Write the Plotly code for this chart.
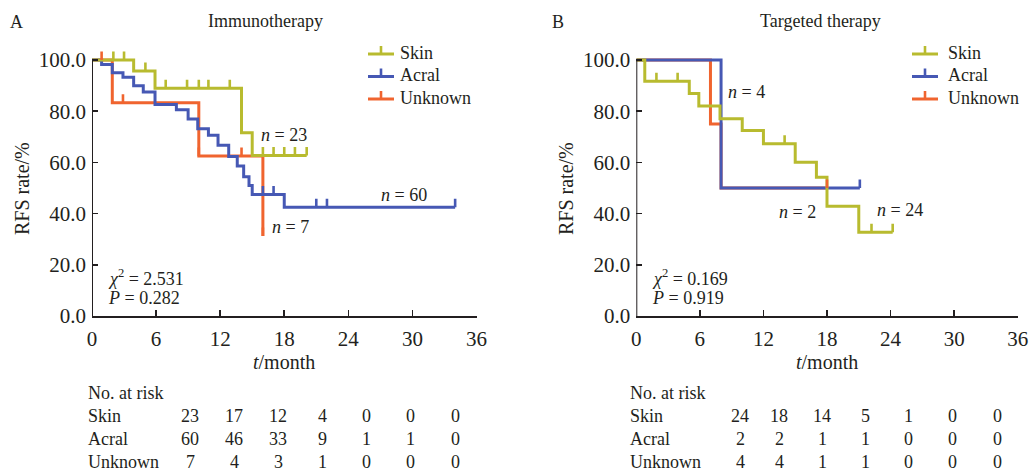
import plotly.graph_objects as go

# ---------------- data ----------------
groups = ["Skin", "Acral", "Unknown"]
colors = {"Skin": "#b8bb2f", "Acral": "#4658b4", "Unknown": "#f0642f"}

# Panel A: Immunotherapy (event times in months, survival % after each event)
a_skin_t = [3.9, 5.9, 14.0, 15.0]
a_skin_s = [95.7, 89.0, 71.6, 62.7]
a_skin_end = 20.1
a_skin_cens = [2.0, 3.0, 5.0, 6.9, 8.9, 10.0, 10.9, 12.9, 16.0, 17.0, 18.0, 19.0, 20.1]

a_acral_t = [0.9, 1.9, 2.9, 3.9, 4.8, 5.9, 7.9, 9.0, 9.9, 10.9, 11.8, 12.8, 13.6, 14.2, 14.7, 15.0, 18.0]
a_acral_s = [98.3, 95.0, 93.3, 90.0, 87.5, 82.6, 80.6, 77.0, 73.2, 70.6, 66.7, 62.3, 58.6, 54.4, 51.0, 47.5, 42.5]
a_acral_end = 34.0
a_acral_cens = [16.0, 17.0, 21.0, 22.0, 34.0]

a_unk_t = [1.9, 10.0, 16.0]
a_unk_s = [83.3, 62.5, 31.25]
a_unk_end = 16.0
a_unk_cens = [0.9, 2.9, 10.0, 14.0, 16.0]

# Panel B: Targeted therapy
b_skin_t = [0.8, 5.0, 5.9, 7.9, 10.0, 12.0, 15.0, 17.0, 18.0, 21.0]
b_skin_s = [91.7, 86.9, 82.0, 77.1, 72.5, 67.3, 60.1, 54.2, 42.9, 32.7]
b_skin_end = 24.2
b_skin_cens = [1.9, 3.9, 14.0, 22.2, 24.2]

b_acral_t = [8.0]
b_acral_s = [50.0]
b_acral_end = 21.1
b_acral_cens = [21.1]

b_unk_t = [7.0, 8.0]
b_unk_s = [75.0, 50.0]
b_unk_end = 18.0
b_unk_cens = [18.0]

x_ticks = [0, 6, 12, 18, 24, 30, 36]
y_ticks = [0, 20, 40, 60, 80, 100]
y_ticktext = ["0.0", "20.0", "40.0", "60.0", "80.0", "100.0"]

risk_times = [0, 6, 12, 18, 24, 30, 36]
a_risk = {"Skin": [23, 17, 12, 4, 0, 0, 0],
          "Acral": [60, 46, 33, 9, 1, 1, 0],
          "Unknown": [7, 4, 3, 1, 0, 0, 0]}
b_risk = {"Skin": [24, 18, 14, 5, 1, 0, 0],
          "Acral": [2, 2, 1, 1, 0, 0, 0],
          "Unknown": [4, 4, 1, 1, 0, 0, 0]}

a_stats = ("2.531", "0.282")
b_stats = ("0.169", "0.919")
a_nlabels = [("23", 18.0, 70.6), ("60", 29.2, 47.1), ("7", 18.6, 34.6)]
b_nlabels = [("4", 10.4, 87.6), ("2", 15.2, 40.8), ("24", 24.9, 41.4)]

# ---------------- layout constants ----------------
W, H = 1029, 471
FONT = "Liberation Serif"
TXT = "#231f20"
TICK_H = 3.3  # censor tick height in % units

panelA = {"Skin": (a_skin_t, a_skin_s, a_skin_end, a_skin_cens),
          "Acral": (a_acral_t, a_acral_s, a_acral_end, a_acral_cens),
          "Unknown": (a_unk_t, a_unk_s, a_unk_end, a_unk_cens)}
panelB = {"Skin": (b_skin_t, b_skin_s, b_skin_end, b_skin_cens),
          "Acral": (b_acral_t, b_acral_s, b_acral_end, b_acral_cens),
          "Unknown": (b_unk_t, b_unk_s, b_unk_end, b_unk_cens)}


def level_at(t, times, surv):
    lv = 100.0
    for ti, si in zip(times, surv):
        if ti <= t + 1e-9:
            lv = si
    return lv


fig = go.Figure()
draw_order = ["Unknown", "Acral", "Skin"]
tick_order = ["Acral", "Skin", "Unknown"]

for pi, panel in enumerate([panelA, panelB]):
    xa = "x" if pi == 0 else "x2"
    ya = "y" if pi == 0 else "y2"
    for g in draw_order:
        times, surv, end, cens = panel[g]
        xs = [0] + list(times)
        ys = [100] + list(surv)
        if end > xs[-1]:
            xs.append(end)
            ys.append(ys[-1])
        fig.add_trace(go.Scatter(x=xs, y=ys, mode="lines", name=g,
                                 line=dict(color=colors[g], width=3, shape="hv"),
                                 xaxis=xa, yaxis=ya, showlegend=False, hoverinfo="skip"))
    for g in tick_order:
        times, surv, end, cens = panel[g]
        tx, ty = [], []
        for c in cens:
            lv = level_at(c, times, surv)
            tx += [c, c, None]
            ty += [lv, lv + TICK_H, None]
        fig.add_trace(go.Scatter(x=tx, y=ty, mode="lines", line=dict(color=colors[g], width=2.6),
                                 xaxis=xa, yaxis=ya, showlegend=False, hoverinfo="skip"))

ydom = [155 / H, 421.2 / H]
axis_common = dict(showgrid=False, zeroline=False, ticks="inside", ticklen=6, tickwidth=1.6,
                   automargin=False,
                   tickcolor=TXT, tickfont=dict(family=FONT, size=21, color=TXT))
xaxis_common = dict(axis_common, range=[0, 36], tickvals=x_ticks, showline=True,
                    linecolor=TXT, linewidth=2, ticklabelstandoff=3)
yaxis_common = dict(axis_common, range=[0, 104], tickvals=y_ticks, ticktext=y_ticktext,
                    showline=False, ticklabelstandoff=5)

fig.update_layout(
    width=W, height=H,
    margin=dict(l=0, r=0, t=0, b=0, autoexpand=False),
    paper_bgcolor="white", plot_bgcolor="white",
    font=dict(family=FONT, size=18, color=TXT),
    xaxis=dict(xaxis_common, domain=[92 / W, 476.5 / W], anchor="y"),
    yaxis=dict(yaxis_common, domain=ydom, anchor="x"),
    xaxis2=dict(xaxis_common, domain=[636.3 / W, 1017.7 / W], anchor="y2"),
    yaxis2=dict(yaxis_common, domain=ydom, anchor="x2"),
    showlegend=False,
)

# y-axis lines from 0 to 100
for xa, ya in [("x", "y"), ("x2", "y2")]:
    fig.add_shape(type="line", xref=xa, yref=ya, x0=0, x1=0, y0=0, y1=100,
                  line=dict(color=TXT, width=2))

ann = []


def px(x, y, text, size=18, xanchor="center", yanchor="middle", angle=0):
    ann.append(dict(x=x / W, y=1 - y / H, xref="paper", yref="paper", text=text, showarrow=False,
                    font=dict(family=FONT, size=size, color=TXT), xanchor=xanchor, yanchor=yanchor,
                    textangle=angle))


# legends (glyph: horizontal line with an upward censor tick)
for gx, tx in [(368, 398), (912, 946)]:
    for ri, g in enumerate(groups):
        ly = 54 + ri * 22.5
        fig.add_shape(type="line", xref="paper", yref="paper", x0=gx / W, x1=(gx + 26) / W,
                      y0=1 - ly / H, y1=1 - ly / H, line=dict(color=colors[g], width=3))
        fig.add_shape(type="line", xref="paper", yref="paper", x0=(gx + 13) / W, x1=(gx + 13) / W,
                      y0=1 - ly / H, y1=1 - (ly - 8) / H, line=dict(color=colors[g], width=2.6))
        px(tx, ly - 1, g, 18, xanchor="left")

# panel letters and titles
px(16, 22, "A", 18)
px(558, 22, "B", 18)
px(265, 21, "Immunotherapy", 18)
px(820, 21, "Targeted therapy", 18)
# axis titles
px(22, 189, "RFS rate/%", 20, angle=-90)
px(566, 189, "RFS rate/%", 20, angle=-90)
px(284, 362, "<i>t</i>/month", 20)
px(827, 362, "<i>t</i>/month", 20)

# n labels and statistics (data coords)
for xa, ya, labels, stats in [("x", "y", a_nlabels, a_stats), ("x2", "y2", b_nlabels, b_stats)]:
    for n, xv, yv in labels:
        ann.append(dict(x=xv, y=yv, xref=xa, yref=ya, text=f"<i>n</i> = {n}", showarrow=False,
                        yanchor="middle", font=dict(family=FONT, size=18, color=TXT)))
    ann.append(dict(x=1.3, y=15.0, xref=xa, yref=ya, text=f"<i>χ</i><sup>2</sup> = {stats[0]}",
                    showarrow=False, xanchor="left", yanchor="middle",
                    font=dict(family=FONT, size=18, color=TXT)))
    ann.append(dict(x=1.3, y=7.2, xref=xa, yref=ya, text=f"<i>P</i> = {stats[1]}",
                    showarrow=False, xanchor="left", yanchor="middle",
                    font=dict(family=FONT, size=18, color=TXT)))

# at-risk tables
for x0, cols, risk in [(86, [190, 234, 278, 322, 366, 410, 455], a_risk),
                       (628, [740, 779, 822, 865, 908, 952, 997], b_risk)]:
    px(x0, 393, "No. at risk", 18, xanchor="left")
    for ri, g in enumerate(groups):
        yy = 416 + ri * 23
        px(x0, yy, g, 18, xanchor="left")
        for ci, v in enumerate(risk[g]):
            px(cols[ci], yy, str(v), 18)

fig.update_layout(annotations=ann)
fig.write_html("out.html", config={"displayModeBar": False, "staticPlot": True},
               post_script="document.body.style.margin='0px';document.body.style.overflow='hidden';")
